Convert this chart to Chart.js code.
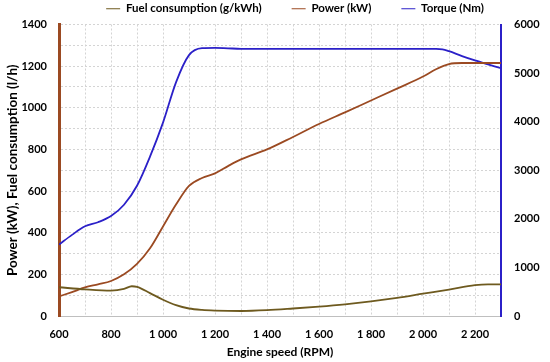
<!DOCTYPE html>
<html><head><meta charset="utf-8">
<script src="https://cdn.jsdelivr.net/npm/chart.js@4/dist/chart.umd.min.js"></script>
<style>html,body{margin:0;padding:0;background:#fff}canvas{display:block}</style>
</head><body>
<canvas id="c" width="550" height="362"></canvas>
<script>
const fuelRpm   = [600,700,800,850,880,900,950,1000,1050,1100,1150,1200,1300,1400,1500,1600,1700,1800,1900,2000,2100,2200,2250,2300];
const fuelVals  = [138,128,122,130,143,140,110,78,52,36,29,26,24,28,36,45,56,70,87,107,127,148,152,152];
const powerRpm  = [600,650,700,750,800,850,900,950,1000,1050,1100,1150,1200,1250,1300,1400,1500,1600,1700,1800,1900,2000,2050,2100,2150,2200,2300];
const powerVals = [94,115,137,152,168,200,250,325,430,535,625,663,685,720,752,800,860,922,978,1035,1092,1150,1185,1210,1215,1215,1215];
const torqRpm   = [600,650,700,750,800,850,900,950,1000,1050,1100,1150,1200,1250,1300,1500,1700,1900,2050,2075,2100,2150,2200,2250,2300];
const torqVals  = [1470,1670,1846,1930,2056,2290,2680,3280,3980,4810,5370,5515,5520,5510,5500,5500,5500,5500,5500,5490,5450,5350,5260,5180,5100];
const xTicks = [600,800,1000,1200,1400,1600,1800,2000,2200];
const leftTicks = [0,200,400,600,800,1000,1200,1400];
const rightTicks = [0,1000,2000,3000,4000,5000,6000];

const FUEL='#6e5a1f', POWER='#9b4a22', TORQ='#2b20c8';
const font = {family:'Lato', weight:'bold', size:11};
const pts = (xs, ys) => xs.map((x,i)=>({x, y: ys[i]}));
const fmt = v => String(v).replace(/\B(?=(\d{3})+(?!\d))/g,' ');

const legendShift = {
  id:'legendShift',
  afterLayout(chart){ if (chart.legend){ chart.legend.left += 20; chart.legend.right += 20; } }
};

new Chart(document.getElementById('c'), {
  type:'line',
  plugins:[legendShift],
  data:{datasets:[
    {label:'Fuel consumption (g/kWh)', data:pts(fuelRpm,fuelVals), borderColor:FUEL, backgroundColor:FUEL, yAxisID:'y'},
    {label:'Power (kW)', data:pts(powerRpm,powerVals), borderColor:POWER, backgroundColor:POWER, yAxisID:'y'},
    {label:'Torque (Nm)', data:pts(torqRpm,torqVals), borderColor:TORQ, backgroundColor:TORQ, yAxisID:'y1'}
  ]},
  options:{
    responsive:false, animation:false,
    layout:{padding:{left:0,right:0,top:-27,bottom:0}},
    elements:{line:{borderWidth:1.8, tension:0.4, cubicInterpolationMode:'monotone'}, point:{radius:0}},
    plugins:{
      legend:{position:'top', maxHeight:57,
        labels:{font:{family:'Lato',weight:'bold',size:11.5}, color:'#000', usePointStyle:true, pointStyle:'line', pointStyleWidth:14, padding:30, boxHeight:12}},
      tooltip:{enabled:false}
    },
    scales:{
      x:{type:'linear', min:600, max:2300,
        afterBuildTicks: s => { s.ticks = []; for (let v=600; v<=2300; v+=100) s.ticks.push({value:v}); },
        afterFit: s => { s.height = 46; },
        ticks:{font, color:'#000', padding:12, maxRotation:0, autoSkip:false, callback: v => xTicks.includes(v) ? fmt(v) : ''},
        grid:{color:'#d4d4d4', drawTicks:false},
        border:{color:'#bfbfbf', width:1, dash:[2,2]},
        title:{display:true, text:'Engine speed (RPM)', font:{family:'Lato',weight:'bold',size:12}, color:'#000', padding:{top:0,bottom:3}}
      },
      y:{position:'left', min:0, max:1400,
        afterBuildTicks: s => { s.ticks = []; for (let v=0; v<=1400; v+=100) s.ticks.push({value:v}); },
        afterFit: s => { s.width = 59; },
        ticks:{font, color:'#000', padding:12, autoSkip:false, callback: v => leftTicks.includes(v) ? String(v) : ''},
        grid:{color:'#d4d4d4', drawTicks:false},
        border:{color:POWER, width:3, dash:[2,2]},
        title:{display:true, text:'Power (kW), Fuel consumption (l/h)', font:{family:'Lato',weight:'bold',size:13.5}, color:'#000', padding:{top:5,bottom:0}}
      },
      y1:{position:'right', min:0, max:6000,
        afterBuildTicks: s => { s.ticks = rightTicks.map(v=>({value:v})); },
        afterFit: s => { s.width = 49; },
        ticks:{font, color:'#000', padding:13, autoSkip:false, callback: v => String(v)},
        grid:{drawOnChartArea:false, drawTicks:false},
        border:{color:TORQ, width:2}
      }
    }
  }
});
</script>
</body></html>
